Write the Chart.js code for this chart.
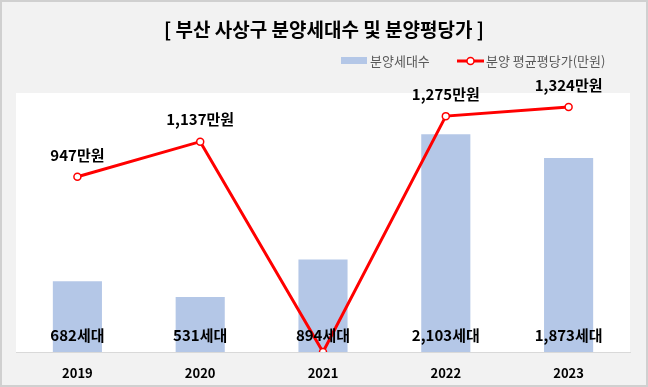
<!DOCTYPE html>
<html>
<head>
<meta charset="utf-8">
<script src="https://cdn.jsdelivr.net/npm/chart.js@4"></script>
<style>
  html, body { margin: 0; padding: 0; background: #f2f2f2; }
  #wrap { width: 648px; height: 387px; }
</style>
</head>
<body>
<div id="wrap"><canvas id="chart" width="648" height="387"></canvas></div>
<script>
// chart data
const years = ["2019", "2020", "2021", "2022", "2023"];
const households = [682, 531, 894, 2103, 1873];
const avgPrice = [947, 1137, 0, 1275, 1324];
const titleText = "[ 부산 사상구 분양세대수 및 분양평당가 ]";
const barLabel = "분양세대수";
const lineLabel = "분양 평균평당가(만원)";

const FONT = "'Noto Sans CJK KR', 'Noto Sans', sans-serif";
const BAR_COLOR = "#b4c7e7";
const LINE_COLOR = "#ff0000";

// number with comma separator
function fmt(n) {
    return n.toLocaleString("en-US");
}

// white plot area + outer frame, drawn before datasets
const backdrop = {
    id: "backdrop",
    beforeDraw(chart) {
        const { ctx, chartArea } = chart;
        ctx.save();
        ctx.fillStyle = "#f2f2f2";
        ctx.fillRect(0, 0, chart.width, chart.height);
        ctx.fillStyle = "#ffffff";
        ctx.fillRect(chartArea.left, chartArea.top, chartArea.right - chartArea.left, chartArea.bottom - chartArea.top);
        ctx.strokeStyle = "#d0d0d0";
        ctx.lineWidth = 2;
        ctx.strokeRect(1, 1, chart.width - 2, chart.height - 2);
        ctx.restore();
    }
};

// title, legend and value labels
const decorations = {
    id: "decorations",
    afterDraw(chart) {
        const { ctx } = chart;
        ctx.save();

        // title
        ctx.fillStyle = "#000000";
        ctx.font = "bold 19px " + FONT;
        ctx.textAlign = "center";
        ctx.textBaseline = "middle";
        ctx.fillText(titleText, 324, 30);

        // legend
        ctx.font = "13px " + FONT;
        ctx.textAlign = "left";
        ctx.fillStyle = BAR_COLOR;
        ctx.fillRect(341, 57, 26, 7);
        ctx.fillStyle = "#595959";
        ctx.fillText(barLabel, 370, 61);

        ctx.strokeStyle = LINE_COLOR;
        ctx.lineWidth = 3;
        ctx.beginPath();
        ctx.moveTo(457, 61);
        ctx.lineTo(484, 61);
        ctx.stroke();
        ctx.beginPath();
        ctx.arc(470.5, 61, 3.5, 0, Math.PI * 2);
        ctx.fillStyle = "#ffffff";
        ctx.fill();
        ctx.lineWidth = 1.5;
        ctx.stroke();
        ctx.fillStyle = "#595959";
        ctx.fillText(lineLabel, 486, 61);

        // value labels (dataset 0 = line, dataset 1 = bars)
        ctx.font = "bold 15px " + FONT;
        ctx.textAlign = "center";
        ctx.fillStyle = "#000000";
        const barMeta = chart.getDatasetMeta(1);
        barMeta.data.forEach((bar, i) => {
            ctx.fillText(fmt(households[i]) + "세대", bar.x, chart.chartArea.bottom - 17);
        });
        const lineMeta = chart.getDatasetMeta(0);
        lineMeta.data.forEach((pt, i) => {
            if (avgPrice[i] > 0) {
                ctx.fillText(fmt(avgPrice[i]) + "만원", pt.x, pt.y - 22);
            }
        });
        ctx.restore();
    }
};

const ctx = document.getElementById("chart").getContext("2d");
const chart = new Chart(ctx, {
    type: "bar",
    data: {
        labels: years,
        datasets: [
            {
                type: "line",
                label: lineLabel,
                data: avgPrice,
                yAxisID: "y1",
                borderColor: LINE_COLOR,
                borderWidth: 3,
                pointRadius: 3.5,
                pointBackgroundColor: "#ffffff",
                pointBorderColor: LINE_COLOR,
                pointBorderWidth: 1.5,
                tension: 0,
                order: 0
            },
            {
                type: "bar",
                label: barLabel,
                data: households,
                yAxisID: "y",
                backgroundColor: BAR_COLOR,
                categoryPercentage: 1,
                barPercentage: 0.4,
                order: 1
            }
        ]
    },
    options: {
        responsive: false,
        animation: false,
        layout: {
            padding: { top: 93, left: 16, right: 18, bottom: 0 }
        },
        plugins: {
            legend: { display: false },
            title: { display: false },
            tooltip: { enabled: false }
        },
        scales: {
            x: {
                grid: { display: false, drawTicks: false },
                border: { display: true, color: "#d9d9d9", width: 1 },
                ticks: {
                    color: "#000000",
                    font: { family: FONT, size: 13, weight: "bold" },
                    padding: 13
                },
                afterFit(scale) {
                    scale.height = 35;
                }
            },
            y: {
                display: false,
                min: 0,
                max: 2500
            },
            y1: {
                display: false,
                min: 0,
                max: 1400
            }
        }
    },
    plugins: [backdrop, decorations]
});
</script>
</body>
</html>
